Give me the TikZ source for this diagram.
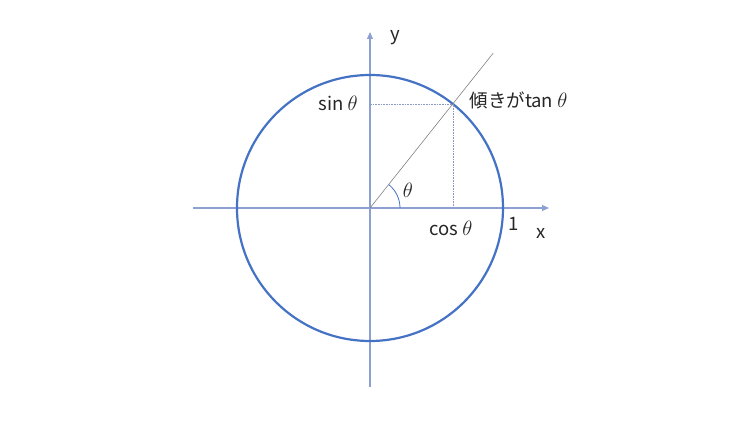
\documentclass[tikz,border=0pt]{standalone}
\usepackage{fontspec}
\setmainfont{Noto Sans CJK JP}
\usetikzlibrary{arrows.meta}
\definecolor{circblue}{RGB}{68,114,196}
\definecolor{axisblue}{RGB}{140,160,210}
\newcommand{\angsym}{{\fontsize{22}{25}\selectfont$\theta$}}
\begin{document}
\begin{tikzpicture}[x=1pt,y=1pt]
    \tikzset{axis/.style={draw=axisblue, line width=1.1pt, -{Triangle[length=7pt,width=6pt]}},
        unitcircle/.style={draw=circblue, line width=2.2pt},
        guide/.style={draw=axisblue!80!gray, densely dotted, line width=0.6pt},
        label/.style={font=\fontsize{18.5}{22}\selectfont, text=black!85}}
    \useasboundingbox (-370,-214) rectangle (380,208);
    \coordinate (O) at (0,0);
    \coordinate (xs) at (-177,0);
    \coordinate (xe) at (179,0);
    \coordinate (ys) at (0,-179);
    \coordinate (ye) at (0,176);
    \coordinate (P) at (51:133);
    \coordinate (T) at (51.5:198);
    % axes and circle
    \draw[axis] (xs) -- (xe);
    \draw[axis] (ys) -- (ye);
    \draw[unitcircle] (O) circle (133);
    \draw[gray, line width=0.6pt] (O) -- (T);
    \draw[guide] (P) -- (P |- O);
    \draw[guide] (P) -- (O |- P);
    \draw[circblue, line width=0.8pt] (30,0) arc (0:51:30);
    % labels
    \node[label] (ylab) at (25,170) {y};
    \node[label] (xlab) at (171,-25) {x};
    \node[label] (one) at (144,-16) {1};
    \node[label] (sinlab) at (-32,105) {sin\kern4pt\angsym};
    \node[label] (coslab) at (81,-20) {cos\kern4pt\angsym};
    \node[label] (angle) at (38,18) {\angsym};
    \node[label, anchor=west] (tanlab) at (96,108) {傾きがtan\kern4pt\angsym};
\end{tikzpicture}
\end{document}
